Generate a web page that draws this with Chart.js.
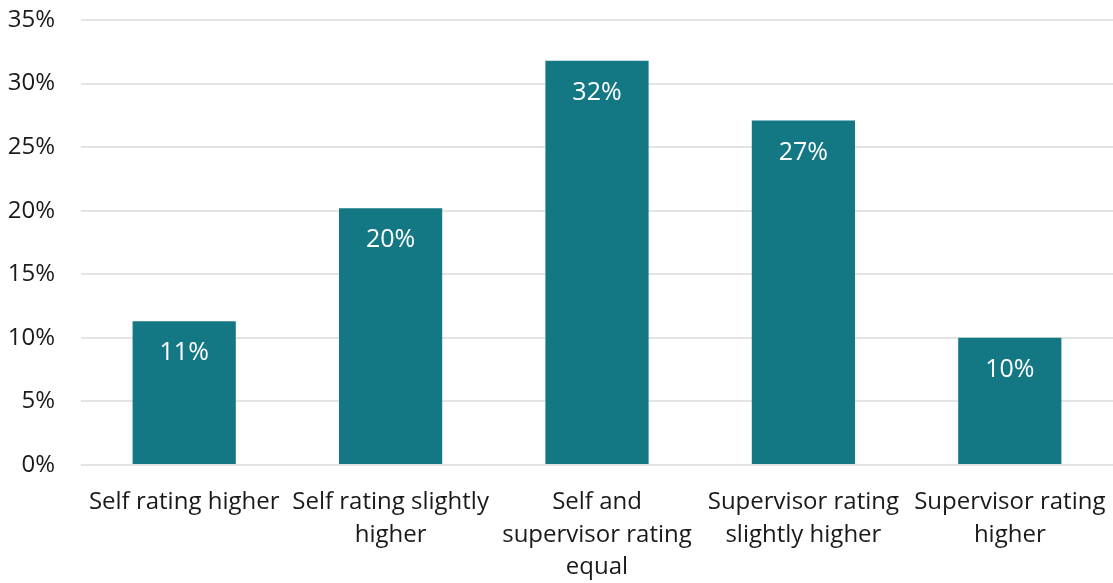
<!DOCTYPE html>
<html>
<head>
<meta charset="utf-8">
<script src="https://cdn.jsdelivr.net/npm/chart.js@4"></script>
<style>
html,body{margin:0;padding:0;background:#fff;}
#wrap{width:1113px;height:583px;position:relative;}
</style>
</head>
<body>
<div id="wrap"><canvas id="c"></canvas></div>
<script>
const categories = [
  ["Self rating higher"],
  ["Self rating slightly", "higher"],
  ["Self and", "supervisor rating", "equal"],
  ["Supervisor rating", "slightly higher"],
  ["Supervisor rating", "higher"]
];
const values = [11.3, 20.2, 31.8, 27.1, 10.0];
const valueLabels = ["11%", "20%", "32%", "27%", "10%"];
const yTicks = [0, 5, 10, 15, 20, 25, 30, 35];

const barLabelPlugin = {
  id: 'barLabels',
  afterDatasetsDraw(chart) {
    const ctx = chart.ctx;
    const meta = chart.getDatasetMeta(0);
    ctx.save();
    ctx.fillStyle = '#ffffff';
    ctx.font = '25px "Open Sans"';
    ctx.textAlign = 'center';
    ctx.textBaseline = 'middle';
    meta.data.forEach((bar, i) => {
      ctx.fillText(valueLabels[i], bar.x, bar.y + 32);
    });
    ctx.restore();
  }
};

new Chart(document.getElementById('c'), {
  type: 'bar',
  data: {
    labels: categories,
    datasets: [{
      data: values,
      backgroundColor: '#137883',
      categoryPercentage: 1,
      barPercentage: 0.5
    }]
  },
  options: {
    responsive: true,
    maintainAspectRatio: false,
    animation: false,
    layout: { padding: { left: 0, right: 0, top: 20, bottom: 0 } },
    plugins: { legend: { display: false }, tooltip: { enabled: false } },
    scales: {
      x: {
        grid: { display: false, drawTicks: false },
        border: { display: false },
        ticks: {
          color: '#1a1a1a',
          font: { family: 'Open Sans', size: 24, lineHeight: 1.355 },
          padding: 21,
          maxRotation: 0,
          minRotation: 0,
          autoSkip: false
        },
        afterFit(axis) {
          axis.height = 118;
          axis.paddingLeft = 0; axis.paddingRight = 0;
          axis.paddingTop = 0; axis.paddingBottom = 0;
        }
      },
      y: {
        min: 0, max: 35,
        afterBuildTicks(axis) { axis.ticks = yTicks.map(v => ({ value: v })); },
        grid: { color: '#e4e4e4', lineWidth: 2, drawTicks: false },
        border: { display: false },
        ticks: {
          color: '#1a1a1a',
          font: { family: 'Open Sans', size: 24 },
          padding: 26,
          callback: v => v + '%'
        },
        afterFit(axis) {
          axis.width = 81;
          axis.paddingTop = 0; axis.paddingBottom = 0;
          axis.paddingLeft = 0; axis.paddingRight = 0;
        }
      }
    }
  },
  plugins: [barLabelPlugin]
});
</script>
</body>
</html>
